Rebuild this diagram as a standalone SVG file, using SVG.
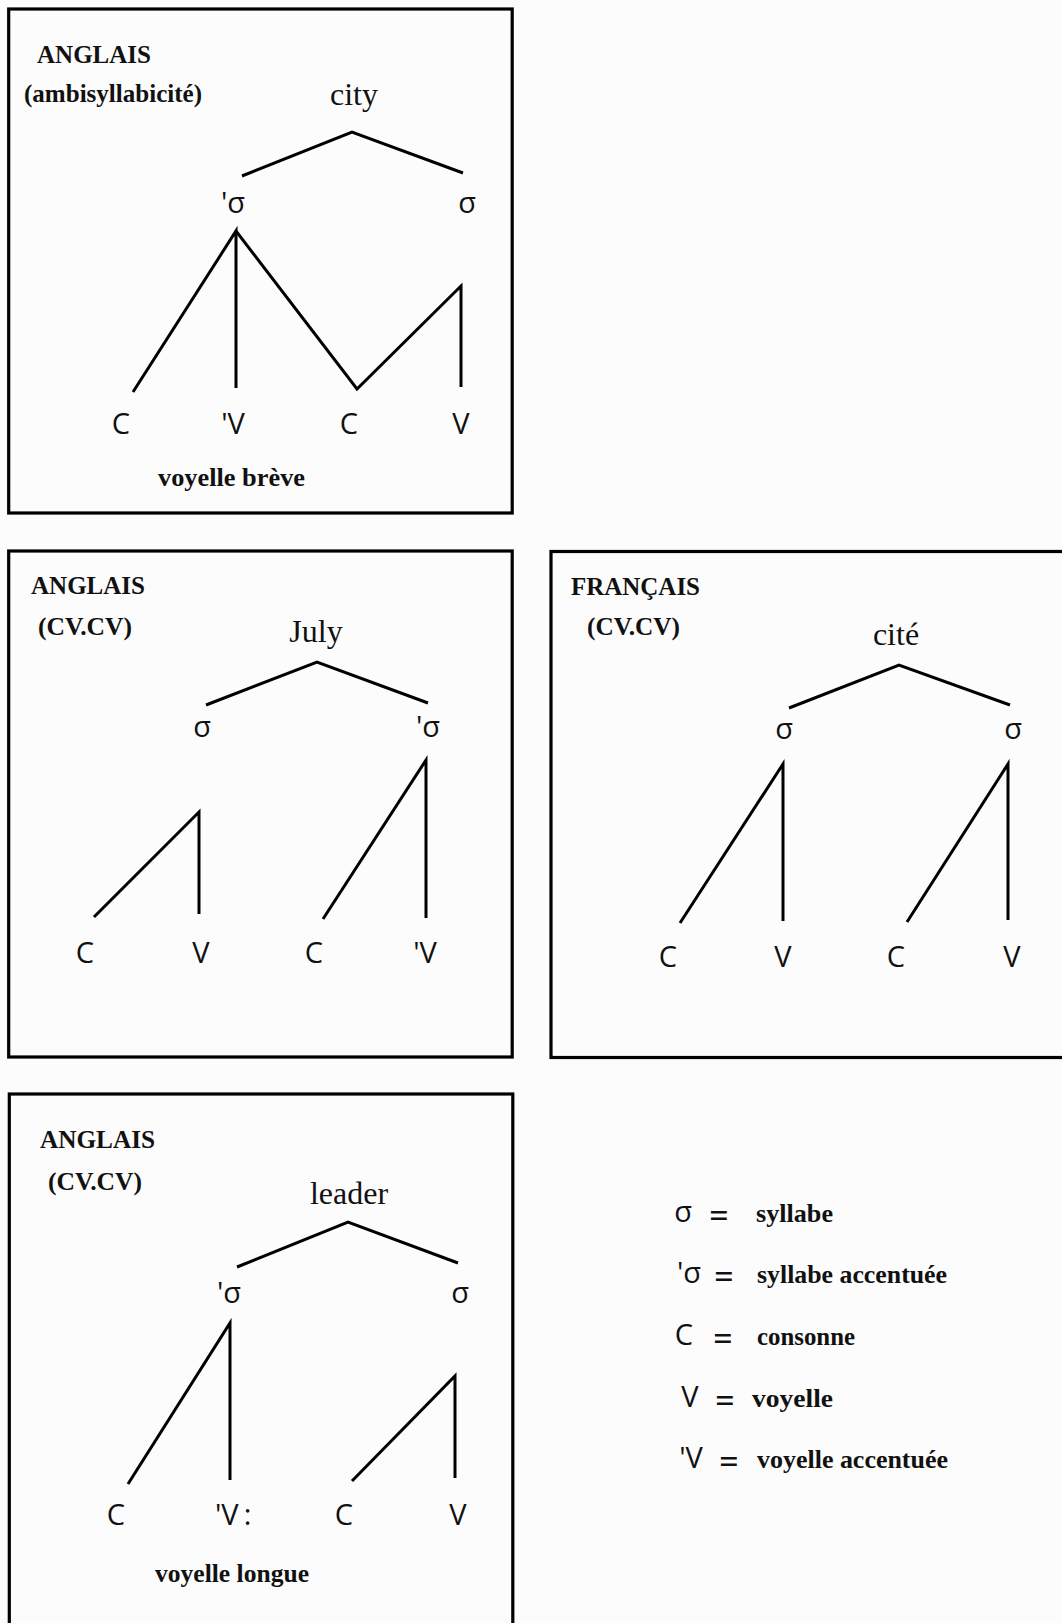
<svg xmlns="http://www.w3.org/2000/svg" width="1062" height="1623" viewBox="0 0 1062 1623">
<style>
.bg{fill:#fcfcfc}
.box{fill:none;stroke:#000;stroke-width:3.2}
.ln{fill:none;stroke:#000;stroke-width:3;stroke-linecap:butt;stroke-linejoin:miter}
.ttl{font-family:"Liberation Serif","Times New Roman",serif;font-weight:bold;font-size:26px;fill:#111}
.word{font-family:"Liberation Serif","Times New Roman",serif;font-size:32px;fill:#111}
.sym{font-family:"Open Sans","DejaVu Sans",sans-serif;font-size:29px;fill:#111}
.eq{font-family:"Liberation Serif","Times New Roman",serif;font-weight:bold;font-size:34px;fill:#111}
</style>
<rect class="bg" x="0" y="0" width="1062" height="1623"/>

<g id="panel-city">
<rect class="box" x="8.7" y="9" width="503.5" height="504"/>
<text class="ttl" x="37" y="63" textLength="114" lengthAdjust="spacingAndGlyphs">ANGLAIS</text>
<text class="ttl" x="24" y="102" textLength="178" lengthAdjust="spacingAndGlyphs">(ambisyllabicité)</text>
<text class="word" x="354" y="105" text-anchor="middle">city</text>
<text class="sym" x="233" y="213" text-anchor="middle">'σ</text>
<text class="sym" x="467" y="213" text-anchor="middle">σ</text>
<text class="sym" x="121" y="434" text-anchor="middle">C</text>
<text class="sym" x="233" y="434" text-anchor="middle">'V</text>
<text class="sym" x="349" y="434" text-anchor="middle">C</text>
<text class="sym" x="461" y="434" text-anchor="middle">V</text>
<text class="ttl" x="158" y="486" textLength="147" lengthAdjust="spacingAndGlyphs">voyelle brève</text>
</g>

<g id="panel-july">
<rect class="box" x="8.7" y="551" width="503.5" height="506"/>
<text class="ttl" x="31" y="594" textLength="114" lengthAdjust="spacingAndGlyphs">ANGLAIS</text>
<text class="ttl" x="38" y="635" textLength="94" lengthAdjust="spacingAndGlyphs">(CV.CV)</text>
<text class="word" x="316" y="642" text-anchor="middle">July</text>
<text class="sym" x="202" y="737" text-anchor="middle">σ</text>
<text class="sym" x="428" y="737" text-anchor="middle">'σ</text>
<text class="sym" x="85" y="963" text-anchor="middle">C</text>
<text class="sym" x="201" y="963" text-anchor="middle">V</text>
<text class="sym" x="314" y="963" text-anchor="middle">C</text>
<text class="sym" x="425" y="963" text-anchor="middle">'V</text>
</g>

<g id="panel-cite">
<rect class="box" x="551" y="551.5" width="530" height="506"/>
<text class="ttl" x="571" y="595" textLength="129" lengthAdjust="spacingAndGlyphs">FRANÇAIS</text>
<text class="ttl" x="587" y="635" textLength="93" lengthAdjust="spacingAndGlyphs">(CV.CV)</text>
<text class="word" x="896" y="645" text-anchor="middle">cité</text>
<text class="sym" x="784" y="739" text-anchor="middle">σ</text>
<text class="sym" x="1013" y="739" text-anchor="middle">σ</text>
<text class="sym" x="668" y="967" text-anchor="middle">C</text>
<text class="sym" x="783" y="967" text-anchor="middle">V</text>
<text class="sym" x="896" y="967" text-anchor="middle">C</text>
<text class="sym" x="1012" y="967" text-anchor="middle">V</text>
</g>

<g id="panel-leader">
<rect class="box" x="9.3" y="1094" width="503.5" height="560"/>
<text class="ttl" x="40" y="1148" textLength="115" lengthAdjust="spacingAndGlyphs">ANGLAIS</text>
<text class="ttl" x="48" y="1190" textLength="94" lengthAdjust="spacingAndGlyphs">(CV.CV)</text>
<text class="word" x="349" y="1204" text-anchor="middle">leader</text>
<text class="sym" x="229" y="1303" text-anchor="middle">'σ</text>
<text class="sym" x="460" y="1303" text-anchor="middle">σ</text>
<text class="sym" x="116" y="1525" text-anchor="middle">C</text>
<text class="sym" x="215" y="1525">'V<tspan dx="5">:</tspan></text>
<text class="sym" x="344" y="1525" text-anchor="middle">C</text>
<text class="sym" x="458" y="1525" text-anchor="middle">V</text>
<text class="ttl" x="155" y="1582" textLength="154" lengthAdjust="spacingAndGlyphs">voyelle longue</text>
</g>

<g id="legend">
<text class="sym" x="683" y="1222" text-anchor="middle">σ</text>
<text class="eq" x="719" y="1227" text-anchor="middle">=</text>
<text class="ttl" x="756" y="1222" textLength="77" lengthAdjust="spacingAndGlyphs">syllabe</text>
<text class="sym" x="689" y="1283" text-anchor="middle">'σ</text>
<text class="eq" x="724" y="1288" text-anchor="middle">=</text>
<text class="ttl" x="757" y="1283" textLength="190" lengthAdjust="spacingAndGlyphs">syllabe accentuée</text>
<text class="sym" x="684" y="1345" text-anchor="middle">C</text>
<text class="eq" x="723" y="1350" text-anchor="middle">=</text>
<text class="ttl" x="757" y="1345" textLength="98" lengthAdjust="spacingAndGlyphs">consonne</text>
<text class="sym" x="690" y="1407" text-anchor="middle">V</text>
<text class="eq" x="725" y="1412" text-anchor="middle">=</text>
<text class="ttl" x="752" y="1407" textLength="81" lengthAdjust="spacingAndGlyphs">voyelle</text>
<text class="sym" x="691" y="1468" text-anchor="middle">'V</text>
<text class="eq" x="729" y="1473" text-anchor="middle">=</text>
<text class="ttl" x="757" y="1468" textLength="191" lengthAdjust="spacingAndGlyphs">voyelle accentuée</text>
</g>

<g id="connectors">
<polyline class="ln" points="242,176 352,132 463,173"/>
<polyline class="ln" points="133,392 236,231 236,388"/>
<polyline class="ln" points="236,231 357,389 461,286 461,387"/>

<polyline class="ln" points="206,705 317,662 428,703"/>
<polyline class="ln" points="94,917 199,812 199,914"/>
<polyline class="ln" points="323,919 426,760 426,918"/>

<polyline class="ln" points="789,708 899,665 1010,705"/>
<polyline class="ln" points="680,923 783,764 783,921"/>
<polyline class="ln" points="907,922 1008,764 1008,920"/>

<polyline class="ln" points="237,1267 348,1222 458,1263"/>
<polyline class="ln" points="128,1484 230,1323 230,1480"/>
<polyline class="ln" points="352,1481 455,1376 455,1478"/>
</g>
</svg>
